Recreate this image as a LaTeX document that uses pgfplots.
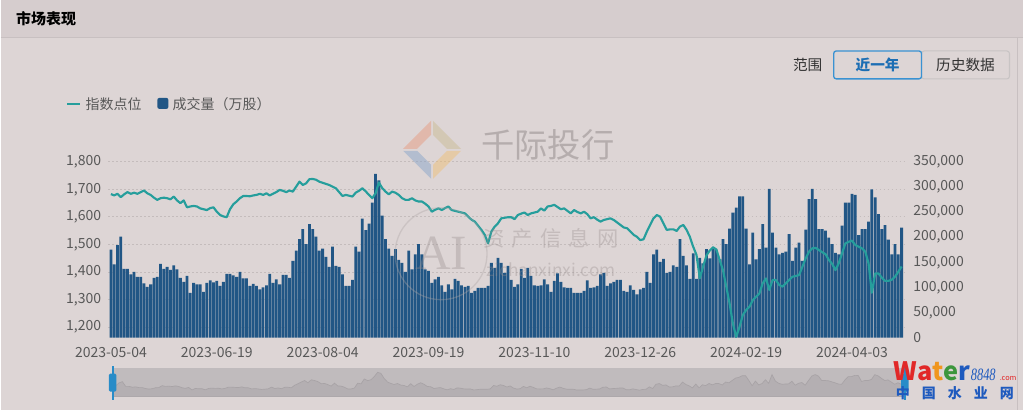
\documentclass[border=0pt]{standalone}
\usepackage{pgfplots}
\pgfplotsset{compat=1.18}
\usepackage{pgfplotstable}
\usepackage{fontspec}
\setmainfont{Noto Sans CJK SC}
\newfontfamily\serifwm{Liberation Serif}
\definecolor{bg}{RGB}{221,213,213}
\definecolor{band}{RGB}{214,205,206}
\definecolor{bordercol}{RGB}{200,192,193}
\definecolor{txt}{RGB}{88,88,88}
\definecolor{dtxt}{RGB}{50,50,50}
\definecolor{barblue}{RGB}{33,86,133}
\definecolor{lineteal}{RGB}{38,158,156}
\definecolor{gridcol}{RGB}{196,188,188}
\definecolor{btnblue}{RGB}{58,146,210}
\definecolor{btntxt}{RGB}{28,110,180}
\definecolor{btngrey}{RGB}{200,196,196}
\definecolor{slideband}{RGB}{192,187,189}
\definecolor{slidefill}{RGB}{180,175,178}
\definecolor{slideline}{RGB}{168,163,166}
\definecolor{handle}{RGB}{40,140,200}
\definecolor{wm}{RGB}{172,164,164}
\definecolor{wmd}{RGB}{150,140,140}
\definecolor{lgA}{RGB}{232,150,120}
\definecolor{lgB}{RGB}{200,185,140}
\definecolor{lgC}{RGB}{130,160,200}
\definecolor{lgD}{RGB}{240,190,110}
\definecolor{wR}{RGB}{225,40,40}
\definecolor{wO}{RGB}{240,150,30}
\definecolor{wG}{RGB}{60,150,60}
\definecolor{wB}{RGB}{30,90,190}

\pgfplotstableread{
i vol idx
0 175 1683
1 146 1678
2 184 1684
3 201 1672
4 137 1682
5 137 1690
6 126 1684
7 131 1688
8 121 1684
9 121 1690
10 108 1696
11 101 1686
12 106 1680
13 119 1670
14 121 1662
15 147 1668
16 137 1670
17 141 1668
18 135 1664
19 144 1674
20 136 1660
21 119 1650
22 111 1660
23 123 1635
24 89 1638
25 109 1640
26 106 1638
27 106 1631
28 91 1628
29 109 1625
30 114 1632
31 110 1635
32 113 1619
33 103 1607
34 111 1602
35 127 1599
36 127 1628
37 124 1646
38 121 1656
39 131 1668
40 118 1676
41 118 1676
42 103 1675
43 107 1678
44 103 1680
45 96 1684
46 100 1680
47 104 1686
48 127 1678
49 109 1684
50 116 1690
51 106 1698
52 125 1695
53 125 1690
54 119 1696
55 153 1692
56 173 1710
57 196 1728
58 216 1716
59 186 1722
60 226 1737
61 216 1738
62 201 1735
63 173 1728
64 177 1724
65 161 1720
66 141 1716
67 181 1710
68 143 1704
69 141 1690
70 126 1676
71 103 1680
72 103 1677
73 115 1674
74 181 1688
75 171 1695
76 237 1704
77 214 1693
78 227 1680
79 269 1668
80 326 1686
81 313 1725
82 243 1705
83 196 1692
84 177 1682
85 163 1692
86 176 1688
87 155 1680
88 149 1668
89 131 1662
90 173 1662
91 136 1668
92 166 1660
93 186 1656
94 166 1656
95 136 1648
96 133 1638
97 109 1619
98 116 1626
99 121 1631
100 104 1625
101 91 1632
102 106 1638
103 96 1625
104 117 1622
105 113 1619
106 104 1616
107 101 1613
108 103 1601
109 89 1590
110 93 1583
111 99 1568
112 99 1553
113 99 1535
114 103 1504
115 149 1547
116 139 1565
117 159 1577
118 149 1595
119 129 1597
120 143 1599
121 115 1599
122 101 1592
123 106 1607
124 137 1612
125 119 1616
126 139 1607
127 123 1613
128 104 1616
129 103 1619
130 104 1631
131 116 1623
132 106 1638
133 91 1640
134 113 1644
135 128 1636
136 111 1628
137 100 1631
138 99 1622
139 99 1613
140 89 1625
141 89 1618
142 89 1613
143 93 1619
144 114 1610
145 99 1595
146 100 1599
147 103 1590
148 126 1583
149 129 1589
150 103 1592
151 108 1595
152 111 1589
153 115 1580
154 115 1571
155 93 1562
156 91 1559
157 104 1547
158 95 1535
159 86 1528
160 96 1516
161 99 1519
162 131 1547
163 109 1571
164 166 1595
165 175 1607
166 151 1601
167 157 1577
168 129 1553
169 131 1555
170 144 1555
171 141 1549
172 196 1565
173 163 1571
174 144 1553
175 117 1528
176 168 1492
177 117 1462
178 159 1377
179 148 1420
180 176 1460
181 158 1478
182 176 1490
183 175 1482
184 156 1444
185 196 1407
186 186 1347
187 217 1286
188 249 1213
189 259 1165
190 281 1201
191 281 1244
192 217 1262
193 146 1274
194 209 1298
195 156 1310
196 176 1322
197 226 1359
198 179 1377
199 296 1335
200 209 1371
201 179 1371
202 166 1353
203 169 1347
204 171 1359
205 206 1371
206 153 1383
207 179 1386
208 189 1389
209 153 1419
210 215 1450
211 276 1474
212 296 1486
213 276 1488
214 216 1480
215 216 1472
216 213 1465
217 199 1444
218 186 1430
219 169 1407
220 166 1432
221 223 1468
222 269 1504
223 269 1510
224 286 1514
225 284 1498
226 204 1492
227 216 1486
228 216 1474
229 231 1432
230 295 1325
231 279 1395
232 246 1395
233 216 1380
234 224 1368
235 195 1368
236 166 1372
237 186 1383
238 166 1401
239 219 1420
}\data

\pgfplotsset{
  base/.style={
    at={(81pt,54pt)}, anchor=south west, scale only axis,
    width=597.75pt, height=132pt,
    xmin=-0.75, xmax=239.9,
    major tick length=0pt,
    tick label style={font=\fontsize{10.5}{12}\selectfont, text=txt},
  }
}

\begin{document}
\begin{tikzpicture}[x=0.75pt,y=0.75pt]
% background
\fill[bg] (0,0) rectangle (1024,410);
\fill[band] (0,372) rectangle (1024,410);
\draw[bordercol, line width=0.8pt] (0,372) -- (1024,372);
\draw[bordercol, line width=0.8pt] (1018,0) -- (1018,372);
\node[anchor=west, font=\bfseries\fontsize{11.25}{13}\selectfont, text=black] at (11,391) {市场表现};

% buttons
\node[font=\fontsize{11}{13}\selectfont, text=dtxt] at (808,345) {范围};
\draw[btngrey, line width=0.8pt, rounded corners=2pt] (922,331) rectangle (1010,359);
\draw[btnblue, line width=1pt, rounded corners=2pt] (834,331) rectangle (922,359);
\node[font=\bfseries\fontsize{11}{13}\selectfont, text=btntxt] at (878,345) {近一年};
\node[font=\fontsize{11}{13}\selectfont, text=dtxt] at (966,345) {历史数据};

% legend
\draw[lineteal, line width=1.5pt] (67,306) -- (80,306);
\node[anchor=west, inner sep=0pt, font=\fontsize{10.5}{12}\selectfont, text=txt] at (85,306) {指数点位};
\fill[barblue, rounded corners=1.5pt] (157,301) rectangle (168,312);
\node[anchor=west, inner sep=0pt, font=\fontsize{10.5}{12}\selectfont, text=txt] at (172,306) {成交量（万股）};

% grid + left axis labels
\begin{axis}[base,
  ymin=1162, ymax=1800,
  axis line style={draw=none},
  xtick=\empty,
  ytick={1200,1300,1400,1500,1600,1700,1800},
  yticklabels={{1,200},{1,300},{1,400},{1,500},{1,600},{1,700},{1,800}},
  ymajorgrids, grid style={gridcol, line width=0.7pt, dash pattern=on 1.2pt off 1.8pt},
  yticklabel style={xshift=-2pt},
]
\addplot[draw=none] coordinates {(0,1300)};
\end{axis}

% bars, right axis
\begin{axis}[base,
  ymin=0, ymax=350,
  axis y line*=right, axis x line*=bottom,
  axis line style={draw=none},
  ytick={0,50,100,150,200,250,300,350},
  yticklabels={0,{50,000},{100,000},{150,000},{200,000},{250,000},{300,000},{350,000}},
  yticklabel style={xshift=3pt},
  xtick={0,32,64,96,128,160,192,224},
  xticklabels={2023-05-04,2023-06-19,2023-08-04,2023-09-19,2023-11-10,2023-12-26,2024-02-19,2024-04-03},
  xticklabel style={yshift=-4pt},
  ybar, bar width=2.1pt,
]
\addplot[fill=barblue, draw=none] table[x=i,y=vol]{\data};
\end{axis}

% index line
\begin{axis}[base, ymin=1162, ymax=1800, hide axis]
\addplot[lineteal, line width=1.6pt, line join=round] table[x=i,y=idx]{\data};
\end{axis}

% slider
\fill[slideband] (112,13) rectangle (905,42);
\begin{axis}[at={(84pt,9.75pt)}, anchor=south west, scale only axis,
  width=594.75pt, height=21.75pt, xmin=0, xmax=239, ymin=0, ymax=390, hide axis]
\addplot[fill=slidefill, draw=slideline, line width=0.5pt] table[x=i,y=vol]{\data} \closedcycle;
\end{axis}
\fill[handle] (111.2,10) rectangle (113.2,44);
\fill[handle, rounded corners=1pt] (108.5,18) rectangle (116,36);
\fill[handle] (904,10) rectangle (906,44);
\fill[handle, rounded corners=1pt] (901.5,18) rectangle (909,36);

% watermarks
\begin{scope}[opacity=0.45]
\fill[lgA] (403,261) -- (431,289) -- (431,275) -- (417,261) -- cycle;
\fill[lgB] (461,261) -- (433,289) -- (433,275) -- (447,261) -- cycle;
\fill[lgC] (403,259) -- (431,231) -- (431,245) -- (417,259) -- cycle;
\fill[lgD] (461,259) -- (433,231) -- (433,245) -- (447,259) -- cycle;
\end{scope}
\node[inner sep=0pt, font=\fontsize{25}{28}\selectfont, text=wm, opacity=0.8] at (548,265) {千际投行};
\begin{scope}[opacity=0.35]
\draw[wm, line width=1pt] (441,156) circle (46);
\node[inner sep=0pt, font=\serifwm\fontsize{37}{40}\selectfont, text=wmd] at (441,156) {AI};
\node[inner sep=0pt, font=\fontsize{16}{18}\selectfont, text=wmd] at (551,171) {资\hspace{5.5pt}产\hspace{5.5pt}信\hspace{5.5pt}息\hspace{5.5pt}网};
\node[inner sep=0pt, font=\fontsize{13}{15}\selectfont, text=wmd] at (551,140) {zichanxinxi.com};
\end{scope}

% water8848 logo
\node[anchor=base west, inner sep=0pt, font=\bfseries\fontsize{19}{20}\selectfont] at (894,29)
  {\textcolor{wR}{Wa}\textcolor{wO}{t}\textcolor{wG}{e}\textcolor{wB}{r}};
\node[anchor=base west, inner sep=0pt, font=\serifwm\itshape\fontsize{13}{14}\selectfont, text=wB] at (971,29) {\scalebox{0.72}[1]{8848}};
\node[anchor=base west, inner sep=0pt, font=\fontsize{5.5}{6}\selectfont, text=wR] at (1000,29) {.com};
\node[anchor=west, inner sep=0pt, font=\bfseries\fontsize{10.5}{12}\selectfont, text=wB] at (896,16) {中\hspace{9pt}国\hspace{9pt}水\hspace{9pt}业\hspace{9pt}网};
\end{tikzpicture}
\end{document}
